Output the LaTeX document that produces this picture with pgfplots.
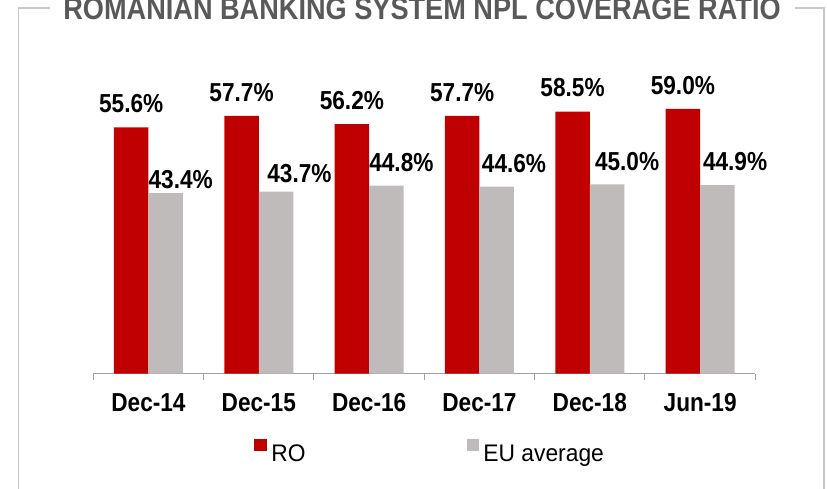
\documentclass[border=0pt]{standalone}
\usepackage{fontspec}
\setmainfont[FakeStretch=0.87]{Liberation Sans}
\newfontfamily\legfont[FakeStretch=0.95]{Liberation Sans}
\usepackage{pgfplots}
\usepackage{pgfplotstable}
\pgfplotsset{compat=1.18}
\definecolor{ro}{HTML}{C00000}
\definecolor{eu}{HTML}{BFBBBB}
\definecolor{framegray}{HTML}{C8C8C8}
\definecolor{axisgray}{HTML}{A0A0A0}
\definecolor{ttl}{HTML}{595959}

\pgfplotstableread{
x y
0 55.6
1 57.7
2 56.2
3 57.7
4 58.5
5 59.0
}\rotable

\pgfplotstableread{
x y dx dy
0 43.4 0 4.7
1 43.7 8.4 9.3
2 44.8 0 14.3
3 44.6 2.3 14.3
4 45.0 5 13.3
5 44.9 2.7 14.3
}\eutable

\begin{document}
\begin{tikzpicture}
\path[use as bounding box] (0,0) rectangle (827bp,489bp);
% frame
\draw[framegray, line width=1.3bp] (50bp,481bp) -- (18.5bp,481bp) -- (18.5bp,-2bp);
\draw[framegray, line width=1.3bp] (795bp,481bp) -- (824bp,481bp) -- (824bp,-2bp);
\node[anchor=base, inner sep=0pt, text=ttl, font=\fontsize{31.2bp}{37bp}\selectfont\bfseries] at (422bp,469.5bp) {ROMANIAN BANKING SYSTEM NPL COVERAGE RATIO};
\begin{axis}[
  at={(93.3bp,115.5bp)}, anchor=south west,
  scale only axis, width=662bp, height=324bp,
  xmin=-0.5, xmax=5.5, ymin=10, ymax=70,
  ybar=0pt, bar width=34.5bp,
  axis x line=bottom, axis y line=none,
  x axis line style={-, draw=axisgray, line width=1bp},
  xtick={-0.5,0.5,...,5.5}, xticklabels={},
  xtick align=outside,
  major tick length=6.5bp,
  x tick style={draw=axisgray, line width=1bp},
  extra x ticks={0,1,2,3,4,5},
  extra x tick labels={Dec-14,Dec-15,Dec-16,Dec-17,Dec-18,Jun-19},
  extra x tick style={major tick length=0pt},
  xticklabel style={font=\fontsize{26bp}{30bp}\selectfont\bfseries, inner sep=0pt, anchor=north, yshift=-19.5bp},
  clip=false,
  nodes near coords={\pgfmathprintnumber[fixed,fixed zerofill,precision=1,assume math mode=true]{\pgfplotspointmeta}\%},
  every node near coord/.append style={font=\fontsize{26bp}{30bp}\selectfont\bfseries, inner sep=0pt, text depth=0pt},
  legend columns=2,
  legend cell align=left,
  legend image code/.code={\fill[#1] (0bp,2.6bp) rectangle (12.4bp,15bp);},
  legend style={at={(axis description cs:0.2432,-0.2761)}, anchor=south west, draw=none, fill=none, inner sep=0pt,
    font=\legfont\fontsize{24bp}{30bp}\selectfont,
    nodes={inner sep=0pt},
    /tikz/every odd column/.append style={column sep=4.5bp},
    /tikz/every even column/.append style={column sep=161bp}},
]
\addplot[fill=ro, draw=none, nodes near coords style={anchor=south, yshift=14.5bp}] table[x=x,y=y] {\rotable};
\addlegendentry{RO}
\addplot[fill=eu, draw=none,
  visualization depends on={\thisrow{dx} \as \dx},
  visualization depends on={\thisrow{dy} \as \dy},
  nodes near coords style={anchor=south west, xshift={\dx bp-17.25bp}, yshift={\dy bp}}] table[x=x,y=y] {\eutable};
\addlegendentry{EU average}
\end{axis}
\end{tikzpicture}
\end{document}
